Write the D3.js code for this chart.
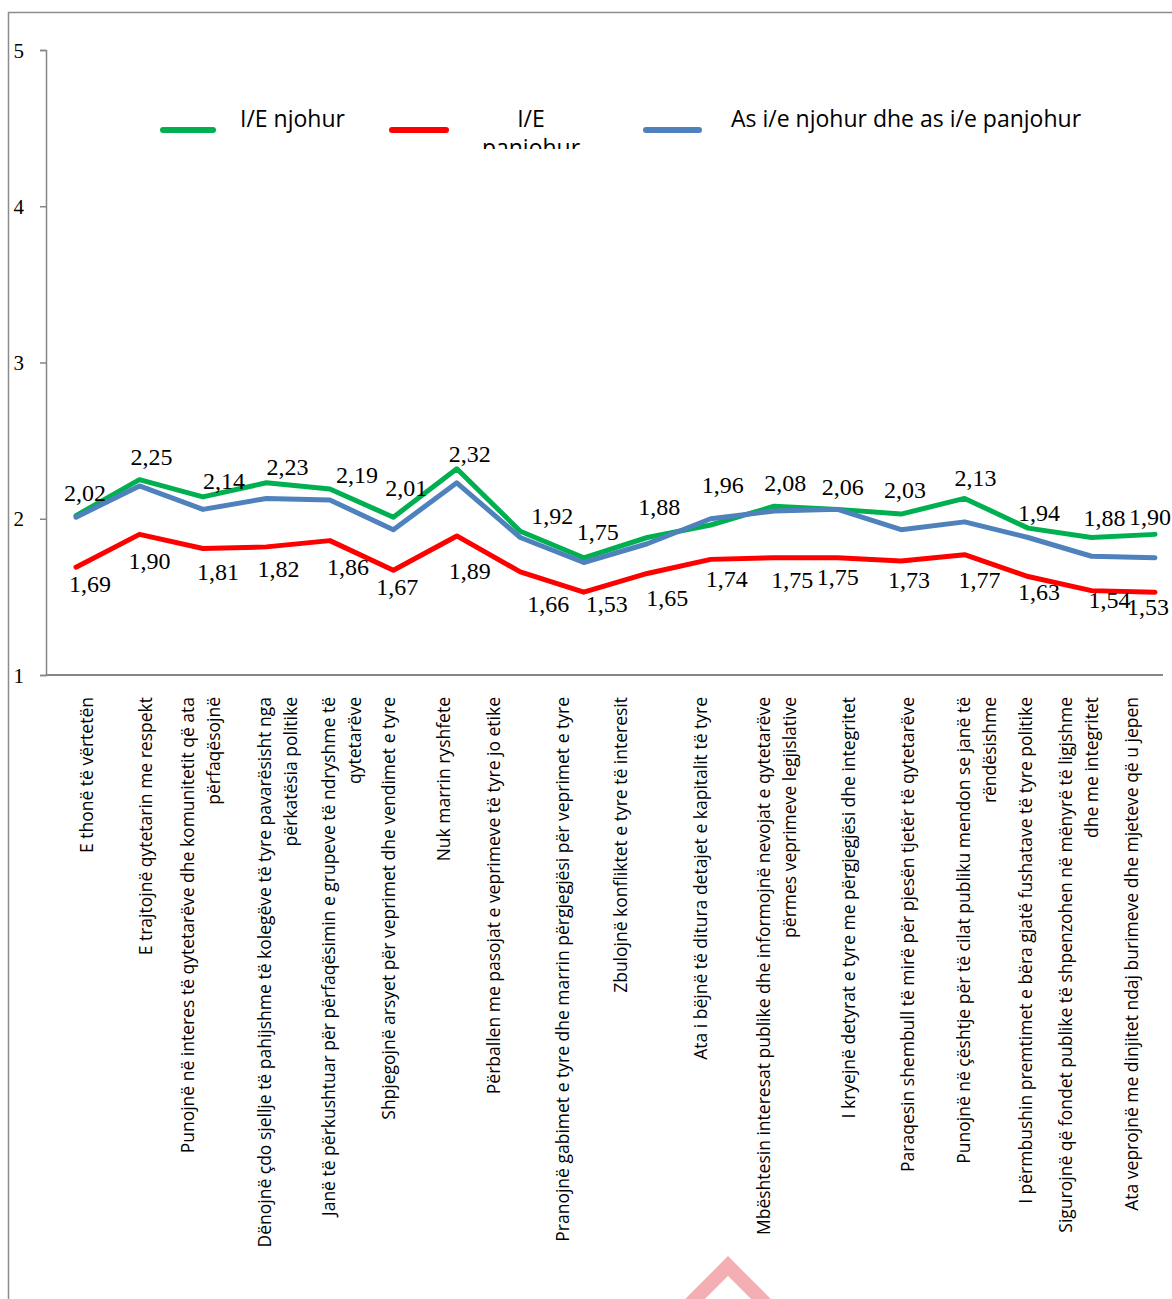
<!DOCTYPE html>
<html>
<head>
<meta charset="utf-8">
<script src="https://cdn.jsdelivr.net/npm/d3@7"></script>
<style>
  html, body { margin: 0; padding: 0; background: #ffffff; }
  svg { display: block; }
</style>
</head>
<body>
<svg id="chart" width="1172" height="1299"></svg>
<script>
// ---------------- data ----------------
const categories = [
  "E thonë të vërtetën",
  "E trajtojnë qytetarin me respekt",
  "Punojnë në interes të qytetarëve dhe komunitetit që ata\npërfaqësojnë",
  "Dënojnë çdo sjellje të pahijshme të kolegëve të tyre pavarësisht nga\npërkatësia politike",
  "Janë të përkushtuar për përfaqësimin e grupeve të ndryshme të\nqytetarëve",
  "Shpjegojnë arsyet për veprimet dhe vendimet e tyre",
  "Nuk marrin ryshfete",
  "Përballen me pasojat e veprimeve të tyre jo etike",
  "Pranojnë gabimet e tyre dhe marrin përgjegjësi për veprimet e tyre",
  "Zbulojnë konfliktet e tyre të interesit",
  "Ata i bëjnë të ditura detajet e kapitalit të tyre",
  "Mbështesin interesat publike dhe informojnë nevojat e qytetarëve\npërmes veprimeve  legjislative",
  "I kryejnë detyrat e tyre me përgjegjësi dhe integritet",
  "Paraqesin shembull të mirë për pjesën tjetër të qytetarëve",
  "Punojnë në çështje për të cilat publiku mendon se janë të\nrëndësishme",
  "I përmbushin premtimet e bëra gjatë fushatave të tyre politike",
  "Sigurojnë që fondet publike të shpenzohen në mënyrë të ligjshme\ndhe me integritet",
  "Ata veprojnë me dinjitet ndaj burimeve dhe mjeteve që u jepen"
];
const seriesNames = ["I/E njohur", "I/E panjohur", "As i/e njohur dhe as i/e panjohur"];
const knownValues   = [2.02, 2.25, 2.14, 2.23, 2.19, 2.01, 2.32, 1.92, 1.75, 1.88, 1.96, 2.08, 2.06, 2.03, 2.13, 1.94, 1.88, 1.90];
const unknownValues = [1.69, 1.90, 1.81, 1.82, 1.86, 1.67, 1.89, 1.66, 1.53, 1.65, 1.74, 1.75, 1.75, 1.73, 1.77, 1.63, 1.54, 1.53];
const neitherValues = [2.01, 2.21, 2.06, 2.13, 2.12, 1.93, 2.23, 1.88, 1.72, 1.84, 2.00, 2.05, 2.06, 1.93, 1.98, 1.88, 1.76, 1.75];
const yTickValues = [1, 2, 3, 4, 5];

// label nudges (manual placement of labels in the original)
const knownLabelNudge = [[9,-23],[12,-23],[21,-16],[21,-16],[27,-14],[13,-29],[13,-15],[32,-15],[14,-26],[12,-31],[12,-40],[11,-23],[5,-22],[4,-24],[11,-20],[11,-15],[13,-20],[-5,-17]];
const unknownLabelNudge = [[14,17],[10,27],[15,24],[12,22],[18,26],[4,17],[13,35],[28,32],[23,12],[20,25],[16,20],[18,22],[0,19],[8,19],[15,25],[11,15],[18,9],[-7,15]];
const tickLabelShift = [9,5.5,-3,10.5,11,-5.5,-14,-27.5,-22,-27.5,-11,1.5,10,5.5,11,-3.5,-14,-25];

// ---------------- layout ----------------
const colors = ["#00B050", "#FF0000", "#4F81BD"];
const axisColor = "#868686";
const serif = "'Liberation Serif', 'Times New Roman', serif";
const sans = "'Open Sans', 'Noto Sans', sans-serif";

const svg = d3.select("#chart");

// outer frame (continues past the right/bottom edges)
svg.append("rect")
  .attr("x", 8.5).attr("y", 12.5)
  .attr("width", 1300).attr("height", 1400)
  .attr("fill", "none").attr("stroke", "#8c8c8c").attr("stroke-width", 1.5);

const x = d3.scalePoint().domain(categories).range([76, 1155]);
const y = d3.scaleLinear().domain([1, 5]).range([675, 50]);
const axisLeftX = 46;
const axisRightX = 1163;

// y axis
const yAxis = svg.append("g")
  .attr("transform", `translate(${axisLeftX},0)`)
  .call(d3.axisLeft(y).tickValues(yTickValues).tickSize(6).tickSizeOuter(6).tickFormat(d3.format("d")));
yAxis.selectAll("path.domain").attr("stroke", axisColor).attr("stroke-width", 1.5);
yAxis.selectAll(".tick line").attr("stroke", axisColor).attr("stroke-width", 1.5);
yAxis.selectAll(".tick text")
  .attr("x", -22).attr("dy", null)
  .attr("dominant-baseline", "central")
  .attr("text-anchor", "end")
  .attr("fill", "#000")
  .style("font-family", serif).style("font-size", "21px");

// x axis line
const xAxis = svg.append("g")
  .attr("transform", `translate(0,${y(1)})`)
  .call(d3.axisBottom(x).tickSize(0).tickSizeOuter(0).tickFormat(""));
xAxis.select("path.domain")
  .attr("d", `M${axisLeftX},0H${axisRightX}`)
  .attr("stroke", axisColor).attr("stroke-width", 2);

// category labels (rotated, wrapped)
xAxis.selectAll(".tick").each(function(d, i) {
  const g = d3.select(this);
  g.select("text").remove();
  const lines = d.split("\n");
  const t = g.append("text")
    .attr("transform", `translate(${tickLabelShift[i]},22) rotate(-90)`)
    .attr("text-anchor", "end")
    .attr("fill", "#000")
    .style("font-family", sans).style("font-size", "17.5px");
  lines.forEach((ln, k) => {
    t.append("tspan")
      .attr("x", 0)
      .attr("y", (k - (lines.length - 1) / 2) * 26)
      .attr("dominant-baseline", "central")
      .text(ln);
  });
});

// lines
const series = [knownValues, unknownValues, neitherValues];
const line = d3.line().x((d, i) => x(categories[i])).y(d => y(d));
series.forEach((vals, s) => {
  svg.append("path")
    .datum(vals)
    .attr("d", line)
    .attr("fill", "none")
    .attr("stroke", colors[s])
    .attr("stroke-width", 5)
    .attr("stroke-linejoin", "round")
    .attr("stroke-linecap", "round");
});

// data labels
const fmt = v => d3.format(".2f")(v).replace(".", ",");
function drawLabels(vals, nudges) {
  svg.append("g").selectAll("text")
    .data(vals)
    .join("text")
    .attr("x", (d, i) => x(categories[i]) + nudges[i][0])
    .attr("y", (d, i) => y(d) + nudges[i][1])
    .attr("text-anchor", "middle")
    .attr("dominant-baseline", "central")
    .attr("fill", "#000")
    .style("font-family", serif).style("font-size", "24px")
    .text(d => fmt(d));
}
drawLabels(knownValues, knownLabelNudge);
drawLabels(unknownValues, unknownLabelNudge);

// legend
const defs = svg.append("defs");
defs.append("clipPath").attr("id", "legclip")
  .append("rect").attr("x", 0).attr("y", 0).attr("width", 1172).attr("height", 149);

const legend = svg.append("g").attr("clip-path", "url(#legclip)");
const legendItems = [
  { sx: 163, ex: 213, tx: 240, anchor: "start" },
  { sx: 392, ex: 446, tx: 531, anchor: "middle" },
  { sx: 646, ex: 699, tx: 731, anchor: "start" }
];
legendItems.forEach((it, i) => {
  legend.append("line")
    .attr("x1", it.sx).attr("x2", it.ex).attr("y1", 130).attr("y2", 130)
    .attr("stroke", colors[i]).attr("stroke-width", 6).attr("stroke-linecap", "round");
  const t = legend.append("text")
    .attr("text-anchor", it.anchor)
    .attr("fill", "#000")
    .style("font-family", sans).style("font-size", "23px");
  const parts = i === 1 ? seriesNames[i].split(" ") : [seriesNames[i]];
  parts.forEach((p, k) => {
    t.append("tspan").attr("x", it.tx).attr("y", 127 + k * 29).text(p);
  });
});

// faint watermark mark at the bottom
svg.append("path")
  .attr("d", "M681,1313L728,1266L775,1313")
  .attr("fill", "none")
  .attr("stroke", "#F4AFB4")
  .attr("stroke-width", 14);
</script>
</body>
</html>
